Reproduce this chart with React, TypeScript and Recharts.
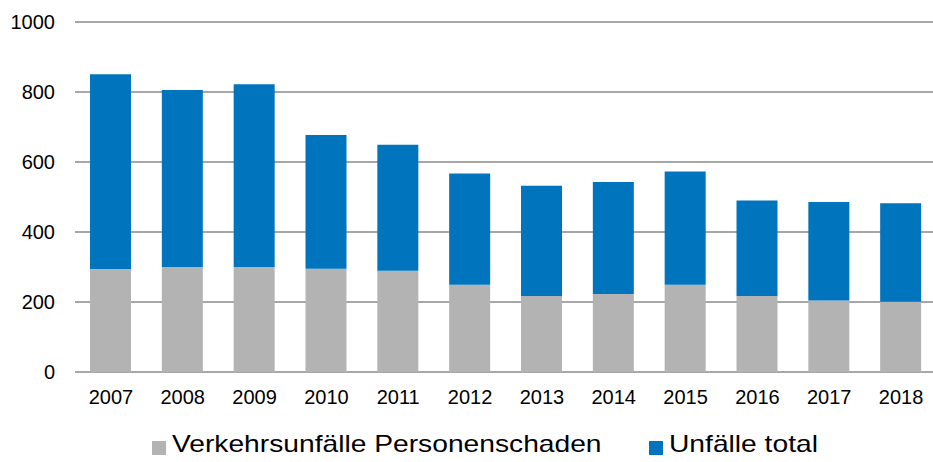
import React from 'react';
import { BarChart, Bar, XAxis, YAxis, CartesianGrid, Legend } from 'recharts';

const years = ['2007', '2008', '2009', '2010', '2011', '2012', '2013', '2014', '2015', '2016', '2017', '2018'];
const personenschaden = [294, 300, 300, 295, 289, 249, 217, 223, 249, 217, 204, 201];
const unfaelleTotal = [851, 806, 822, 677, 649, 567, 532, 543, 573, 490, 486, 482];
const yTicks = [0, 200, 400, 600, 800, 1000];

const GRAY = '#b3b3b3';
const BLUE = '#0075bd';
const FONT = '"Liberation Sans", Arial, sans-serif';

// total bar = gray part + blue rest on top
const data = years.map((year, i) => ({
  year,
  personen: personenschaden[i],
  rest: unfaelleTotal[i] - personenschaden[i],
}));

const legendItems = [
  { label: 'Verkehrsunfälle Personenschaden', color: GRAY, left: 152 },
  { label: 'Unfälle total', color: BLUE, left: 649 },
];

const ChartLegend = () => (
  <div style={{ position: 'relative', width: 933, height: 40, fontFamily: FONT }}>
    {legendItems.map((item) => (
      <div key={item.label} style={{ position: 'absolute', left: item.left, top: 0, height: 40 }}>
        <span
          style={{
            position: 'absolute',
            left: 0,
            top: 19,
            width: 14,
            height: 14,
            background: item.color,
          }}
        />
        <span
          style={{
            position: 'absolute',
            left: 20,
            top: 7,
            fontSize: 24,
            lineHeight: '30px',
            color: '#000',
            whiteSpace: 'nowrap',
            display: 'inline-block',
            transform: 'scaleX(1.175)',
            transformOrigin: 'left center',
          }}
        >
          {item.label}
        </span>
      </div>
    ))}
  </div>
);

export default function App() {
  return (
    <div style={{ position: 'fixed', left: 0, top: 0, width: 933, height: 462, overflow: 'hidden', background: '#fff' }}>
      <BarChart
        width={943}
        height={462}
        data={data}
        margin={{ top: 22, right: 6, left: 0, bottom: 0 }}
      >
        <CartesianGrid vertical={false} stroke="#8a8a8a" strokeWidth={1.5} />
        <XAxis
          dataKey="year"
          height={50}
          axisLine={false}
          tickLine={false}
          tickMargin={12}
          tick={{ fontSize: 20, fill: '#000', fontFamily: FONT }}
        />
        <YAxis
          width={75}
          domain={[0, 1000]}
          ticks={yTicks}
          axisLine={false}
          tickLine={false}
          tickMargin={14}
          tick={{ fontSize: 20, fill: '#000', fontFamily: FONT }}
        />
        <Legend
          verticalAlign="bottom"
          height={40}
          wrapperStyle={{ left: 0, width: 933 }}
          content={() => <ChartLegend />}
        />
        <Bar dataKey="personen" name="Verkehrsunfälle Personenschaden" stackId="a" fill={GRAY} barSize={41} isAnimationActive={false} />
        <Bar dataKey="rest" name="Unfälle total" stackId="a" fill={BLUE} barSize={41} isAnimationActive={false} />
      </BarChart>
    </div>
  );
}
